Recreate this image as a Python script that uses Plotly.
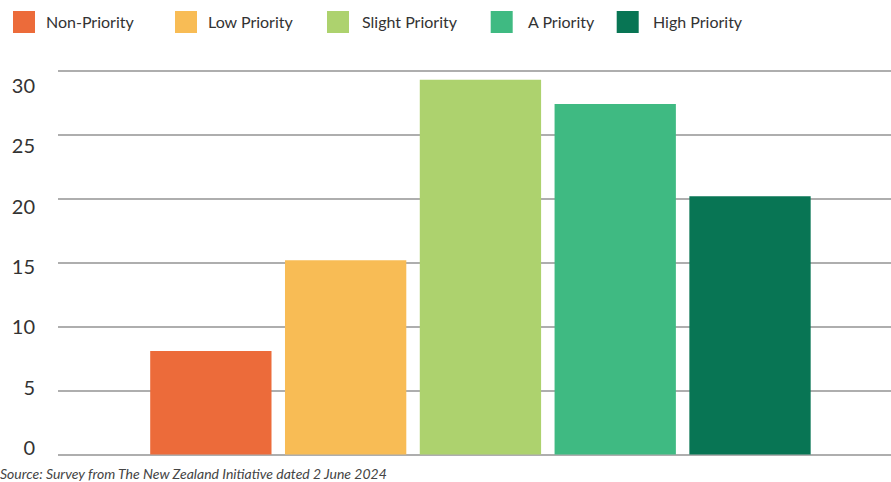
import plotly.graph_objects as go

categories = ["Non-Priority", "Low Priority", "Slight Priority", "A Priority", "High Priority"]
values = [8.1, 15.2, 29.3, 27.4, 20.2]
colors = ["#EC6B3A", "#F8BC55", "#ADD26E", "#3FBA82", "#087554"]
tick_vals = [0, 5, 10, 15, 20, 25, 30]
tick_text = ["0", "5", "10", "15", "20", "25", "30"]
source_text = "Source: Survey from The New Zealand Initiative dated 2 June 2024"

W, H = 891, 482
ML, MR, MT, MB = 58, 0, 58, 21
plot_w = W - ML - MR

def px_to_paper_x(px):
    return (px - ML) / plot_w

def py_to_paper_y(py):
    return (H - MB - py) / (H - MT - MB)

fig = go.Figure()
for cat, val, col in zip(categories, values, colors):
    fig.add_trace(go.Bar(x=[cat], y=[val], marker=dict(color=col, line=dict(width=0)),
                         width=0.9, name=cat, showlegend=False, hoverinfo="x+y"))

# invisible trace on y2 to carry offset tick labels
fig.add_trace(go.Scatter(x=[categories[0]], y=[0], yaxis="y2", mode="markers",
                         marker=dict(opacity=0), showlegend=False, hoverinfo="skip"))

# y2 range: label for 0 sits at px 448, label for 30 sits at px 86
s2 = (448 - 86) / 30
bottom_px = H - MB
top_px = MT
y2_range = [(448 - bottom_px) / s2, (448 - top_px) / s2]

fig.update_layout(
    width=W, height=H,
    margin=dict(l=ML, r=MR, t=MT, b=MB),
    paper_bgcolor="white", plot_bgcolor="white",
    barmode="overlay",
    showlegend=False,
    xaxis=dict(type="category", categoryorder="array", categoryarray=categories,
               range=[-1.134, 5.046], showticklabels=False, showgrid=False,
               zeroline=False, showline=False, ticks=""),
    yaxis=dict(range=[-0.5, 31], tickvals=tick_vals, showticklabels=False,
               showgrid=True, gridcolor="#AEAEAE", gridwidth=1.5,
               zeroline=False, showline=False, ticks=""),
    yaxis2=dict(overlaying="y", side="left", range=y2_range, tickvals=tick_vals,
                ticktext=tick_text, showgrid=False, zeroline=False, showline=False,
                ticks="", ticklabelstandoff=22,
                tickfont=dict(family="Lato", size=20, color="#333333")),
)

# manual legend (large square swatches)
sq_x = [13, 175, 327, 490.7, 616.7]
txt_x = [44, 206, 360, 526, 651]
shapes = []
annotations = []
for cat, col, sx, tx in zip(categories, colors, sq_x, txt_x):
    shapes.append(dict(type="rect", xref="paper", yref="paper",
                       x0=px_to_paper_x(sx), x1=px_to_paper_x(sx + 22),
                       y0=py_to_paper_y(33), y1=py_to_paper_y(11),
                       fillcolor=col, line=dict(width=0), layer="above"))
    annotations.append(dict(text=cat, xref="paper", yref="paper",
                            x=px_to_paper_x(tx), y=py_to_paper_y(21.5),
                            xanchor="left", yanchor="middle", showarrow=False,
                            font=dict(family="Lato", size=16, color="#333333")))

annotations.append(dict(text="<i>" + source_text + "</i>", xref="paper", yref="paper",
                        x=px_to_paper_x(-2), y=py_to_paper_y(473),
                        xanchor="left", yanchor="middle", showarrow=False,
                        font=dict(family="Lato", size=14, color="#444444")))

fig.update_layout(shapes=shapes, annotations=annotations)
fig.write_html("out.html", config={"displayModeBar": False},
               post_script="document.body.style.margin='0';document.body.style.overflow='hidden';")
